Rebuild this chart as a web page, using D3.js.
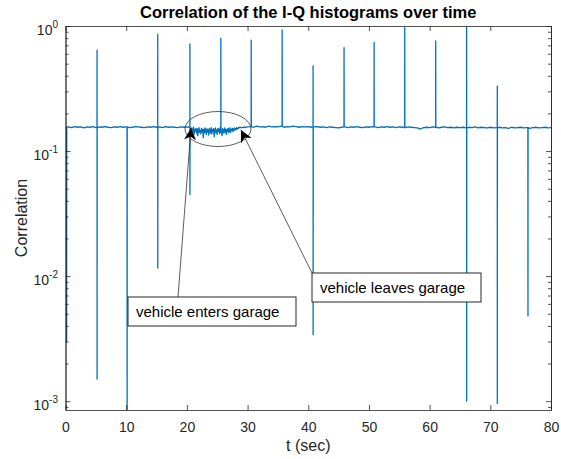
<!DOCTYPE html>
<meta charset="utf-8">
<style>
    body { margin: 0; background: #fff; }
    .container { width: 561px; height: 459px; }
    text { font-family: Arial, "Liberation Sans", sans-serif; fill: #262626; }
</style>
<body>
<div class="container"></div>
<script src="https://cdn.jsdelivr.net/npm/d3@7"></script>
<script>

// baseline correlation, one sample every 0.5 s from t = 0
const baseStart = 0, baseStep = 0.5;
const baseline = [
    0.155,0.156,0.154,0.157,0.155,0.156,0.153,0.156,0.155,0.157,
    0.154,0.156,0.155,0.157,0.155,0.154,0.156,0.155,0.157,0.155,
    0.156,0.154,0.155,0.157,0.156,0.155,0.154,0.156,0.155,0.157,
    0.155,0.156,0.154,0.157,0.155,0.156,0.155,0.154,0.156,0.155,
    0.156,0.155,0.150,0.148,0.151,0.147,0.150,0.149,0.148,0.150,
    0.147,0.151,0.149,0.150,0.148,0.152,0.154,0.155,0.154,0.155,
    0.156,0.157,0.155,0.158,0.156,0.157,0.155,0.158,0.156,0.157,
    0.156,0.158,0.155,0.157,0.156,0.158,0.157,0.155,0.157,0.156,
    0.157,0.155,0.156,0.157,0.155,0.156,0.154,0.156,0.155,0.154,
    0.153,0.155,0.156,0.154,0.156,0.155,0.157,0.155,0.154,0.156,
    0.155,0.157,0.156,0.154,0.156,0.155,0.157,0.155,0.156,0.154,
    0.156,0.155,0.154,0.156,0.155,0.154,0.153,0.150,0.154,0.155,
    0.154,0.156,0.155,0.153,0.155,0.156,0.154,0.155,0.153,0.155,
    0.154,0.155,0.153,0.155,0.154,0.156,0.153,0.155,0.154,0.153,
    0.155,0.153,0.154,0.155,0.153,0.154,0.152,0.155,0.153,0.154,
    0.155,0.153,0.154,0.152,0.154,0.155,0.153,0.154,0.155,0.153,
    0.154
];

// noisier stretch while the vehicle is in the garage, every 0.1 s
const garageStart = 20.6, garageStep = 0.1;
const garageNoise = [
    0.150,0.142,0.153,0.138,0.147,0.155,0.136,0.149,0.144,0.152,
    0.139,0.151,0.133,0.148,0.154,0.141,0.146,0.137,0.152,0.143,
    0.149,0.128,0.150,0.140,0.153,0.145,0.136,0.151,0.142,0.148,
    0.134,0.152,0.146,0.139,0.154,0.137,0.149,0.143,0.151,0.130,
    0.147,0.153,0.140,0.148,0.136,0.152,0.144,0.150,0.138,0.155,
    0.141,0.147,0.133,0.151,0.145,0.139,0.153,0.142,0.149,0.136,
    0.150,0.144,0.152,0.140,0.147,0.154,0.141,0.150,0.146,0.152,
    0.143,0.149,0.153,0.147,0.151,0.148,0.154,0.150,0.153,0.152,
    0.155
];

// periodic spikes: time, peak value, dip value (null = none)
const spikeTimes = [0.18, 5.2, 10.15, 15.2, 20.5, 25.6, 30.6, 35.7, 40.8, 45.9, 50.85, 55.9, 61.0, 66.1, 71.15, 76.2];
const spikeHigh  = [null, 0.64, null, 0.86, 0.72, 0.80, 0.77, 0.93, 0.48, 0.67, 0.74, 0.97, 0.76, 0.98, 0.33, null];
const spikeLow   = [0.003, 0.0015, 0.0007, 0.0116, 0.045, null, null, null, 0.0034, null, null, null, null, 0.001, 0.00096, 0.0048];

const xTicks = [0, 10, 20, 30, 40, 50, 60, 70, 80];
const yTicks = [1e-3, 1e-2, 1e-1, 1];
const yTickExp = ['-3', '-2', '-1', '0'];

const width = 561;
const height = 459;
const pLeft = 65.5, pRight = 551, pTop = 26, pBottom = 410;

const svg = d3.select('.container')
    .append('svg')
    .attr('width', width)
    .attr('height', height);

const x = d3.scaleLinear().domain([0, 80]).range([pLeft, pRight]);
const y = d3.scaleLog().domain([8.5e-4, 1]).range([pBottom, pTop]);

// build the point table
const nearestBase = t => baseline[Math.min(baseline.length - 1, Math.round((t - baseStart) / baseStep))];
const garageEnd = garageStart + (garageNoise.length - 1) * garageStep;
let pts = [];
baseline.forEach((v, i) => {
    const t = baseStart + i * baseStep;
    if (t > garageStart - 0.05 && t < garageEnd + 0.05) return;
    pts.push({ t: t, v: v, k: 0 });
});
garageNoise.forEach((v, i) => pts.push({ t: garageStart + i * garageStep, v: v, k: 0 }));
spikeTimes.forEach((t, i) => {
    const b = nearestBase(t);
    pts.push({ t: t - 0.01, v: b, k: 1 });
    if (spikeHigh[i] !== null) pts.push({ t: t, v: spikeHigh[i], k: 2 });
    if (spikeLow[i] !== null) pts.push({ t: t + 0.005, v: spikeLow[i], k: 3 });
    pts.push({ t: t + 0.02, v: b, k: 4 });
});
pts.sort((a, b) => a.t - b.t || a.k - b.k);

svg.append('clipPath').attr('id', 'clip')
    .append('rect')
    .attr('x', pLeft).attr('y', pTop)
    .attr('width', pRight - pLeft).attr('height', pBottom - pTop);

const line = d3.line().x(d => x(d.t)).y(d => y(d.v));

svg.append('path')
    .datum(pts)
    .attr('clip-path', 'url(#clip)')
    .attr('d', line)
    .style('fill', 'none')
    .style('stroke', '#0072BD')
    .style('stroke-width', 1.3)
    .style('stroke-linejoin', 'round');

// axes
const axisColor = '#262626';
const minor = [];
[1e-4, 1e-3, 1e-2, 1e-1].forEach(d => { for (let k = 2; k <= 9; k++) { const v = d * k; if (v >= 8.5e-4 && v < 1) minor.push(v); } });

const styleAxis = g => {
    g.selectAll('path, line').style('stroke', axisColor).style('stroke-width', 0.8);
    g.selectAll('text').style('font-size', '14px').style('fill', axisColor);
};

svg.append('g').attr('transform', `translate(0,${pBottom})`)
    .call(d3.axisBottom(x).tickValues(xTicks).tickSize(-5).tickSizeOuter(0).tickPadding(12).tickFormat(d3.format('d')))
    .call(styleAxis);
svg.append('g').attr('transform', `translate(0,${pTop})`)
    .call(d3.axisTop(x).tickValues(xTicks).tickSize(-5).tickSizeOuter(0).tickFormat(''))
    .call(styleAxis);

svg.append('g').attr('transform', `translate(${pLeft},0)`)
    .call(d3.axisLeft(y).tickValues(yTicks).tickSize(-5).tickSizeOuter(0).tickFormat(''))
    .call(styleAxis);
svg.append('g').attr('transform', `translate(${pLeft},0)`)
    .call(d3.axisLeft(y).tickValues(minor).tickSize(-3).tickSizeOuter(0).tickFormat(''))
    .call(styleAxis);
svg.append('g').attr('transform', `translate(${pRight},0)`)
    .call(d3.axisRight(y).tickValues(yTicks).tickSize(-5).tickSizeOuter(0).tickFormat(''))
    .call(styleAxis);
svg.append('g').attr('transform', `translate(${pRight},0)`)
    .call(d3.axisRight(y).tickValues(minor).tickSize(-3).tickSizeOuter(0).tickFormat(''))
    .call(styleAxis);

// y tick labels with superscript exponents
yTicks.forEach((v, i) => {
    const t = svg.append('text')
        .attr('x', 58)
        .attr('y', y(v) + 9)
        .attr('text-anchor', 'end')
        .style('font-size', '14px');
    t.append('tspan').text('10');
    t.append('tspan').attr('dy', -7).style('font-size', '10px').text(yTickExp[i]);
});

// titles
svg.append('text')
    .attr('x', (pLeft + pRight) / 2).attr('y', 18)
    .attr('text-anchor', 'middle')
    .style('font-size', '16.5px').style('font-weight', 'bold').style('fill', '#000')
    .text('Correlation of the I-Q histograms over time');

svg.append('text')
    .attr('x', (pLeft + pRight) / 2).attr('y', 451)
    .attr('text-anchor', 'middle')
    .style('font-size', '16px')
    .text('t (sec)');

svg.append('text')
    .attr('transform', `translate(27,${(pTop + pBottom) / 2}) rotate(-90)`)
    .attr('text-anchor', 'middle')
    .style('font-size', '16px')
    .text('Correlation');

// annotations
svg.append('defs').append('marker')
    .attr('id', 'head')
    .attr('viewBox', '0 0 10 10')
    .attr('refX', 10).attr('refY', 5)
    .attr('markerWidth', 12).attr('markerHeight', 12)
    .attr('markerUnits', 'userSpaceOnUse')
    .attr('orient', 'auto')
    .append('path')
    .attr('d', 'M0,0 L10,5 L0,10 L3,5 Z')
    .style('fill', '#000');

svg.append('ellipse')
    .attr('cx', 218).attr('cy', 129).attr('rx', 33).attr('ry', 17.5)
    .style('fill', 'none').style('stroke', '#333').style('stroke-width', 0.8);

svg.append('line')
    .attr('x1', 178).attr('y1', 297).attr('x2', 191).attr('y2', 128)
    .style('stroke', '#333').style('stroke-width', 0.8)
    .attr('marker-end', 'url(#head)');
svg.append('line')
    .attr('x1', 312).attr('y1', 273).attr('x2', 241).attr('y2', 130)
    .style('stroke', '#333').style('stroke-width', 0.8)
    .attr('marker-end', 'url(#head)');

const boxes = [
    { x: 128, y: 297, w: 168, h: 29, label: 'vehicle enters garage' },
    { x: 312, y: 273, w: 169, h: 29, label: 'vehicle leaves garage' }
];
boxes.forEach(b => {
    svg.append('rect')
        .attr('x', b.x).attr('y', b.y).attr('width', b.w).attr('height', b.h)
        .style('fill', '#fff').style('stroke', '#262626').style('stroke-width', 1);
    svg.append('text')
        .attr('x', b.x + 8).attr('y', b.y + 20)
        .style('font-size', '15px').style('fill', '#000')
        .text(b.label);
});

</script>
</body>
